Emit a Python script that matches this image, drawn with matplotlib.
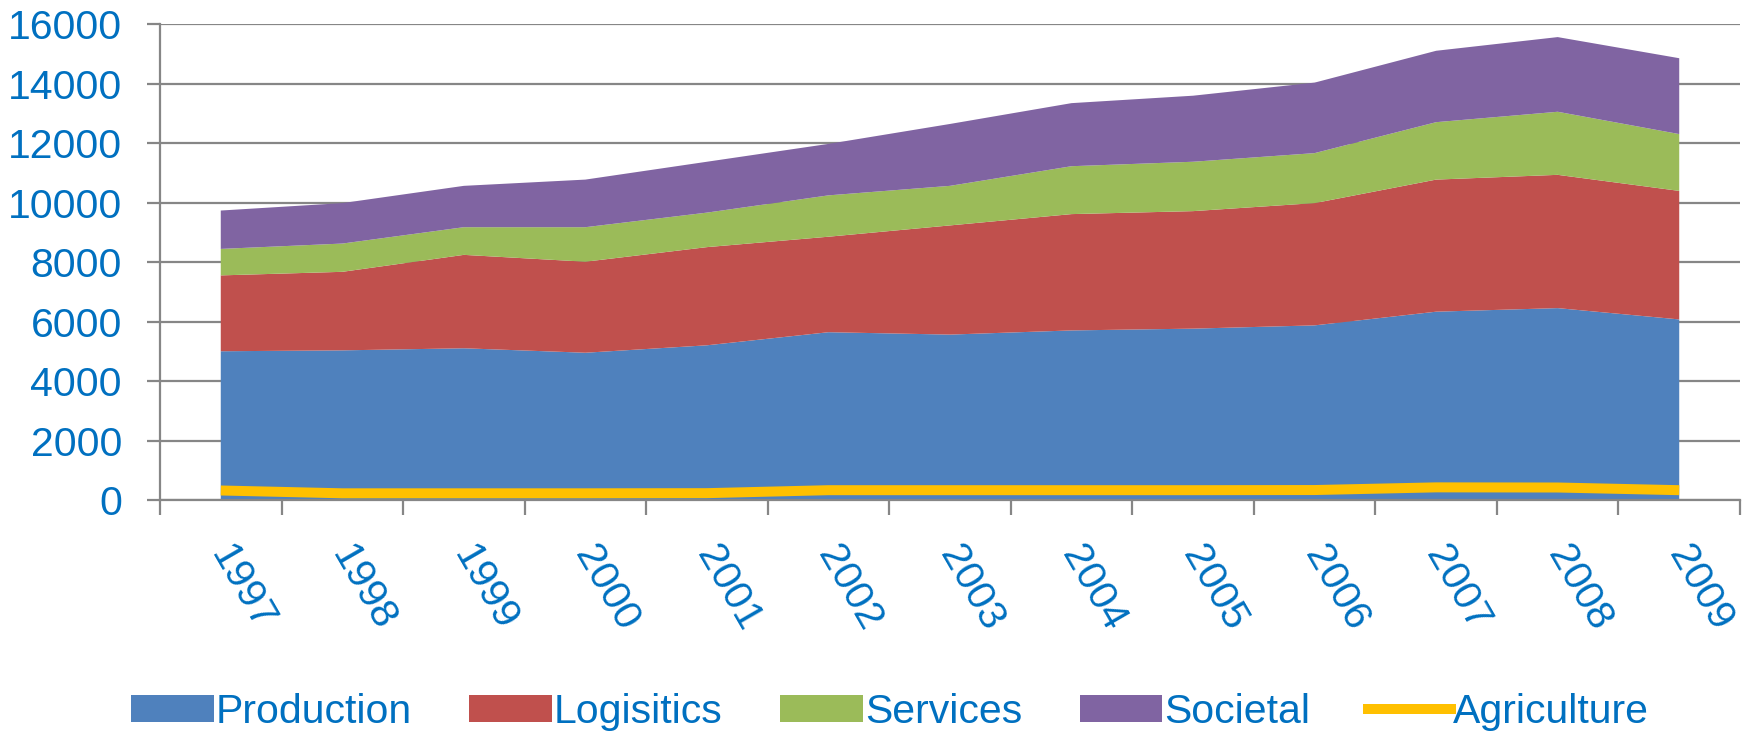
import matplotlib
matplotlib.use("Agg")
import matplotlib.pyplot as plt
from matplotlib.transforms import ScaledTranslation
from matplotlib.lines import Line2D
from matplotlib.patches import Patch

# ---- data ----
years = ["1997", "1998", "1999", "2000", "2001", "2002", "2003",
         "2004", "2005", "2006", "2007", "2008", "2009"]
production = [5010, 5040, 5110, 4960, 5210, 5650, 5570, 5710, 5770, 5880, 6340, 6460, 6080]
logistics = [2550, 2640, 3140, 3060, 3300, 3210, 3670, 3910, 3950, 4110, 4440, 4480, 4320]
services = [890, 950, 930, 1160, 1160, 1390, 1330, 1610, 1660, 1680, 1930, 2120, 1910]
societal = [1290, 1360, 1390, 1600, 1710, 1730, 2080, 2120, 2220, 2370, 2400, 2510, 2550]
agriculture = [330, 235, 235, 235, 240, 340, 340, 340, 340, 345, 435, 430, 340]
series_names = ["Production", "Logisitics", "Services", "Societal", "Agriculture"]
yticks = [0, 2000, 4000, 6000, 8000, 10000, 12000, 14000, 16000]

# ---- style ----
colors = ["#4F81BD", "#C0504D", "#9BBB59", "#8064A2"]
agri_color = "#FFC000"
text_color = "#0070C0"
grid_color = "#868686"

plt.rcParams["font.family"] = ["Liberation Sans", "DejaVu Sans"]
fs = 29.5

W, H, DPI = 1756, 732, 100
fig = plt.figure(figsize=(W / DPI, H / DPI), dpi=DPI)
ax = fig.add_axes([160 / W, 1 - 500.3 / H, 1580 / W, 476 / H])

x = list(range(len(years)))
ax.stackplot(x, production, logistics, services, societal, colors=colors,
             linewidth=0, zorder=2)
ax.plot(x, agriculture, color=agri_color, linewidth=7.2, solid_capstyle="butt", zorder=3)

ax.set_xlim(-0.5, len(years) - 0.5)
ax.set_ylim(0, 16000)

lw = 1.6
ax.set_yticks(yticks)
ax.set_yticklabels([str(v) for v in yticks])
ax.yaxis.grid(True, color=grid_color, linewidth=lw, zorder=0)
ax.set_axisbelow(True)
ax.tick_params(axis="y", direction="out", length=9.4, width=lw, color=grid_color,
               labelsize=fs, labelcolor=text_color, pad=18)

ax.set_xticks([i - 0.5 for i in range(len(years) + 1)])
ax.set_xticklabels([])
ax.set_xticks(x, minor=True)
ax.set_xticklabels(years, minor=True)
ax.tick_params(axis="x", which="major", direction="out", length=10.8, width=lw,
               color=grid_color)
ax.tick_params(axis="x", which="minor", length=0, pad=28, labelsize=fs,
               labelcolor=text_color)
off = ScaledTranslation(15 / DPI, 0, fig.dpi_scale_trans)
for lab in ax.get_xticklabels(minor=True):
    lab.set_rotation(-60)
    lab.set_ha("left")
    lab.set_va("top")
    lab.set_rotation_mode("anchor")
    lab.set_transform(lab.get_transform() + off)

for s in ["top", "right"]:
    ax.spines[s].set_visible(False)
for s in ["left", "bottom"]:
    ax.spines[s].set_color(grid_color)
    ax.spines[s].set_linewidth(lw)

handles = [Patch(facecolor=c, edgecolor="none") for c in colors]
handles.append(Line2D([0], [0], color=agri_color, linewidth=7.2))
leg = fig.legend(handles, series_names, loc="center left",
                 bbox_to_anchor=(131 / W, 1 - 712 / H), ncol=5, frameon=False,
                 fontsize=fs, labelcolor=text_color, handlelength=2.02,
                 handleheight=0.66, handletextpad=0.05, columnspacing=1.40,
                 borderpad=0, borderaxespad=0)

fig.savefig("out.png", dpi=DPI)
